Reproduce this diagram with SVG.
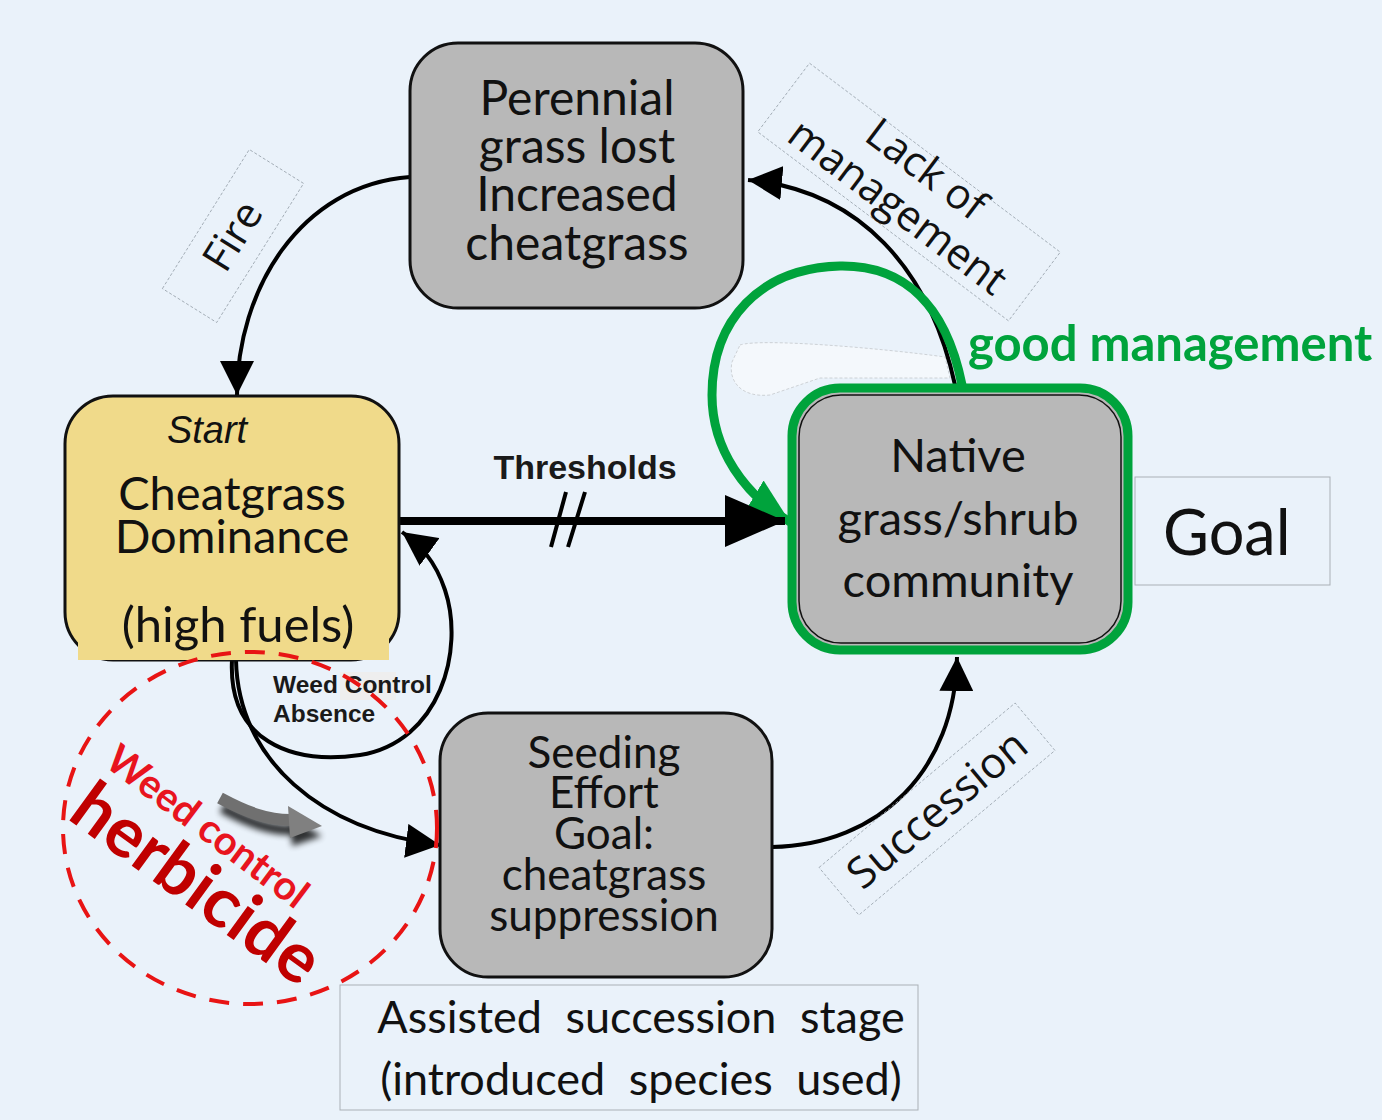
<svg xmlns="http://www.w3.org/2000/svg" width="1382" height="1120" viewBox="0 0 1382 1120">
<style>
.box{fill:#B8B8B8;stroke:#111;stroke-width:3}
.t{font-family:Lato,"Open Sans",sans-serif;fill:#111;text-anchor:middle}
.o{font-family:"Open Sans",Lato,sans-serif;fill:#111;text-anchor:middle}
.lbl{fill:none;stroke:#9aa4ad;stroke-width:0.8;stroke-dasharray:3,2}
.c{fill:none;stroke:#000;stroke-width:4}
.b{font-family:"Liberation Sans",Arial,sans-serif;font-weight:bold;fill:#1a1a1a}
</style>
<defs>
<marker id="ah" viewBox="0 0 30 30" refX="30" refY="15" markerWidth="34" markerHeight="34" markerUnits="userSpaceOnUse" orient="auto"><path d="M0,0 L30,15 L0,30 z" fill="#000"/></marker>
<marker id="ahBig" viewBox="0 0 60 52" refX="60" refY="26" markerWidth="60" markerHeight="52" markerUnits="userSpaceOnUse" orient="auto"><path d="M0,0 L60,26 L0,52 z" fill="#000"/></marker>
<marker id="ahG" viewBox="0 0 40 40" refX="40" refY="20" markerWidth="44" markerHeight="44" markerUnits="userSpaceOnUse" orient="auto"><path d="M0,0 L40,20 L0,40 z" fill="#00A33C"/></marker>
<filter id="blur" x="-30%" y="-30%" width="160%" height="160%"><feGaussianBlur stdDeviation="3"/></filter>
</defs>
<rect width="1382" height="1120" fill="#EAF2FA"/>

<!-- faint leftover shape -->
<path d="M740,345 C760,338 880,348 945,357 L950,378 L820,378 L770,395 C740,398 728,380 732,362 Z" fill="#F4F8FC" stroke="#c4c8cc" stroke-width="0.8" stroke-dasharray="3,2"/>

<g id="connectors">
  <path class="c" d="M410,177 C300,185 237,290 237,395" marker-end="url(#ah)"/>
  <path class="c" d="M955,385 C930,270 860,190 748,180" marker-end="url(#ah)"/>
  <path d="M962,385 C945,300 900,265 840,266 C760,268 712,320 712,395 C712,450 745,495 790,522" fill="none" stroke="#00A33C" stroke-width="9" marker-end="url(#ahG)"/>
  <path d="M399,521 L785,521" stroke="#000" stroke-width="8" marker-end="url(#ahBig)"/>
  <path d="M551,547 L566,492 M568,547 L585,492" stroke="#000" stroke-width="4"/>
  <path class="c" d="M772,847 C880,845 955,770 957,657" marker-end="url(#ah)"/>
  <path class="c" d="M232,660 C228,740 290,765 360,755 C440,742 465,650 445,590 C435,560 420,545 402,532" marker-end="url(#ah)"/>
  <path class="c" d="M236,660 C238,760 320,830 440,845" marker-end="url(#ah)"/>
</g>

<g id="label-thresholds">
  <text class="b" x="585" y="479" font-size="34" text-anchor="middle">Thresholds</text>
</g>

<g id="label-fire">
  <g transform="translate(233,236) rotate(-58)">
    <rect class="lbl" x="-82" y="-32" width="164" height="64"/>
    <text class="o" x="0" y="14" font-size="42">Fire</text>
  </g>
</g>
<g id="label-lack">
  <g transform="translate(909,192) rotate(37)">
    <rect class="lbl" x="-157" y="-43" width="314" height="86"/>
    <text class="o" x="0" y="-14" font-size="42">Lack of</text>
    <text class="o" x="0" y="33" font-size="42">management</text>
  </g>
</g>
<g id="label-succession">
  <g transform="translate(937,809) rotate(-40)">
    <rect class="lbl" x="-128" y="-31" width="256" height="62"/>
    <text class="o" x="0" y="15" font-size="43">Succession</text>
  </g>
</g>

<g id="node-perennial">
  <rect class="box" x="410" y="43" width="333" height="265" rx="48"/>
  <text class="t" x="577" y="115" font-size="48">Perennial</text>
  <text class="t" x="577" y="163" font-size="48">grass lost</text>
  <text class="t" x="577" y="211" font-size="48">Increased</text>
  <text class="t" x="577" y="260" font-size="48">cheatgrass</text>
</g>

<g id="node-start">
  <rect x="65" y="396" width="334" height="264" rx="48" fill="#F0DA8A" stroke="#111" stroke-width="3"/>
  <rect x="78" y="630" width="311" height="30" fill="#F0DA8A"/>
  <text x="207" y="443" font-family="Liberation Sans,Arial,sans-serif" font-style="italic" font-size="38" text-anchor="middle" fill="#111">Start</text>
  <text class="t" x="232" y="510" font-size="47">Cheatgrass</text>
  <text class="t" x="232" y="553" font-size="47">Dominance</text>
  <text class="t" x="238" y="642" font-size="49">(high fuels)</text>
</g>

<g id="node-native">
  <rect x="792" y="388" width="336" height="262" rx="48" fill="#B8B8B8" stroke="#00A33C" stroke-width="9"/>
  <rect x="799" y="395" width="322" height="248" rx="42" fill="none" stroke="#111" stroke-width="1.5"/>
  <text class="t" x="958" y="472" font-size="47">Native</text>
  <text class="t" x="958" y="535" font-size="47">grass/shrub</text>
  <text class="t" x="958" y="597" font-size="47">community</text>
</g>

<g id="label-good">
  <text x="968" y="361" font-family="Lato,'Open Sans',sans-serif" font-weight="bold" font-size="49" fill="#00A33C">good management</text>
</g>

<g id="node-goal">
  <rect x="1135" y="477" width="195" height="108" fill="none" stroke="#aab0b6" stroke-width="1"/>
  <text x="1163" y="555" font-family="Lato,'Open Sans',sans-serif" font-size="63" fill="#111">Goal</text>
</g>

<g id="node-seeding">
  <rect class="box" x="440" y="713" width="332" height="264" rx="48"/>
  <text class="t" x="604" y="768" font-size="44">Seeding</text>
  <text class="t" x="604" y="808" font-size="44">Effort</text>
  <text class="t" x="604" y="849" font-size="44">Goal:</text>
  <text class="t" x="604" y="890" font-size="44">cheatgrass</text>
  <text class="t" x="604" y="931" font-size="44">suppression</text>
</g>

<g id="node-assisted">
  <rect x="340" y="985" width="578" height="125" fill="#EAF2FA" stroke="#aab0b6" stroke-width="1"/>
  <text class="t" x="641" y="1033" font-size="45" word-spacing="12">Assisted succession stage</text>
  <text class="t" x="641" y="1095" font-size="45" word-spacing="12">(introduced species used)</text>
</g>

<g id="label-weed-absence">
  <rect x="340" y="672" width="56" height="28" fill="#EEEEEE"/>
  <text class="b" x="273" y="693" font-size="24.5">Weed Control</text>
  <text class="b" x="273" y="722" font-size="24.5">Absence</text>
</g>

<g id="herbicide">
  <ellipse cx="250" cy="828" rx="187" ry="176" fill="none" stroke="#E81414" stroke-width="4" stroke-dasharray="20,14"/>
  <text transform="translate(103,765) rotate(37)" font-family="Lato,'Open Sans',sans-serif" font-weight="bold" font-size="40" fill="#E8141E">Weed control</text>
  <text transform="translate(66,818) rotate(36)" font-family="Lato,'Open Sans',sans-serif" font-weight="bold" font-size="70" fill="#C00000">herbicide</text>
  <g filter="url(#blur)" opacity="0.8">
    <path d="M222,808 C250,823 270,830 292,830" fill="none" stroke="#000" stroke-width="10"/>
    <path d="M290,818 L322,836 L292,846 z" fill="#000"/>
  </g>
  <path d="M220,798 C248,813 268,820 290,820" fill="none" stroke="#707070" stroke-width="12"/>
  <path d="M288,806 L322,826 L290,838 z" fill="#808080"/>
</g>
</svg>
